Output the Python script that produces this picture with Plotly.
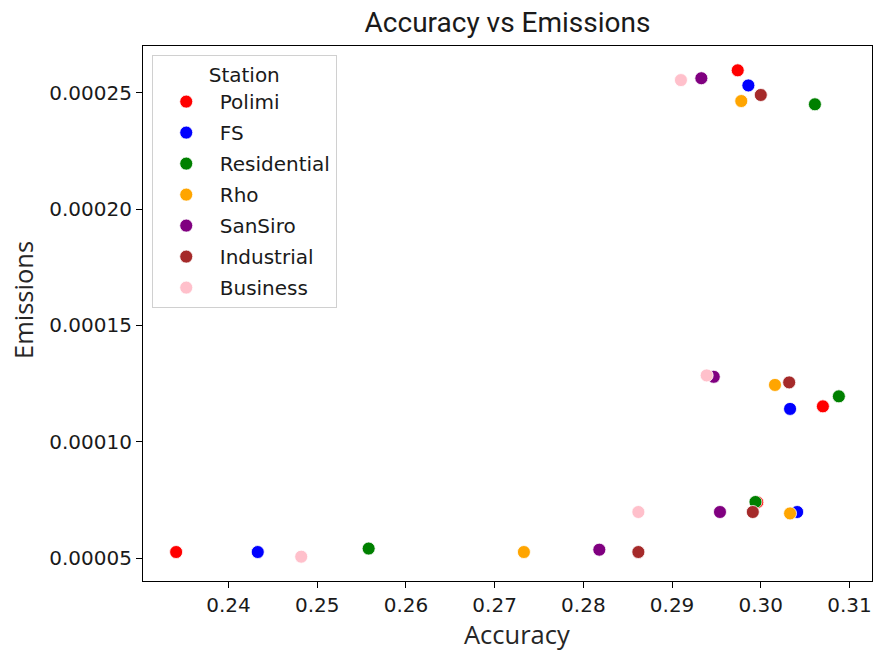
import plotly.graph_objects as go

# Accuracy / emissions measured for each station (four runs per station)
stations = ["Polimi", "FS", "Residential", "Rho", "SanSiro", "Industrial", "Business"]
colors = ["red", "blue", "green", "orange", "purple", "brown", "pink"]

accuracy = {
    "Polimi":      [0.2341, 0.2996, 0.3070, 0.2974],
    "FS":          [0.2433, 0.3041, 0.3033, 0.2986],
    "Residential": [0.2558, 0.2994, 0.3088, 0.3061],
    "Rho":         [0.2733, 0.3033, 0.3016, 0.2978],
    "SanSiro":     [0.2818, 0.2954, 0.2947, 0.2933],
    "Industrial":  [0.2862, 0.2991, 0.3032, 0.3000],
    "Business":    [0.2482, 0.2862, 0.2939, 0.2910],
}
emissions = {
    "Polimi":      [0.0000526, 0.0000740, 0.0001152, 0.0002596],
    "FS":          [0.0000526, 0.0000698, 0.0001141, 0.0002531],
    "Residential": [0.0000541, 0.0000741, 0.0001195, 0.0002450],
    "Rho":         [0.0000526, 0.0000692, 0.0001244, 0.0002464],
    "SanSiro":     [0.0000536, 0.0000698, 0.0001279, 0.0002562],
    "Industrial":  [0.0000526, 0.0000698, 0.0001255, 0.0002490],
    "Business":    [0.0000506, 0.0000698, 0.0001285, 0.0002554],
}

x_ticks = [0.24, 0.25, 0.26, 0.27, 0.28, 0.29, 0.30, 0.31]
y_ticks = [0.00005, 0.00010, 0.00015, 0.00020, 0.00025]

fig = go.Figure()
for name, col in zip(stations, colors):
    fig.add_trace(go.Scatter(
        x=accuracy[name], y=emissions[name], mode="markers", name=name,
        legendgroup=name,
        marker=dict(color=col, size=13, line=dict(color="white", width=0.8)),
    ))

# autoscale limits with a 5% pad on each side
all_x = [v for s in stations for v in accuracy[s]]
all_y = [v for s in stations for v in emissions[s]]
xr = max(all_x) - min(all_x)
yr = max(all_y) - min(all_y)
x_range = [min(all_x) - 0.05 * xr, max(all_x) + 0.05 * xr]
y_range = [min(all_y) - 0.05 * yr, max(all_y) + 0.05 * yr]

W, H = 873, 655
L, R, T, B = 143, 1, 46, 74
plot_w, plot_h = W - L - R, H - T - B

tick_font = dict(family="DejaVu Sans", size=20, color="#1a1a1a")
label_font = dict(family="Open Sans", size=25.5, color="#262626")

fig.update_layout(
    width=W, height=H,
    margin=dict(l=L, r=R, t=T, b=B),
    plot_bgcolor="white", paper_bgcolor="white",
    showlegend=True,
    title=dict(text="Accuracy vs Emissions", xref="paper", x=0.5, xanchor="center",
               yref="container", y=1 - 22 / H, yanchor="middle",
               font=dict(family="Roboto", size=28, color="#1a1a1a")),
    legend=dict(
        x=0.012, y=0.983, xanchor="left", yanchor="top",
        bgcolor="rgba(255,255,255,0.8)", bordercolor="#d0d0d0", borderwidth=1,
        font=dict(family="DejaVu Sans", size=20, color="#1a1a1a"),
        title=dict(text="Station", side="top center",
                   font=dict(family="DejaVu Sans", size=20, color="#1a1a1a")),
        itemwidth=57, traceorder="grouped", tracegroupgap=2,
    ),
    xaxis=dict(
        range=x_range, tickvals=x_ticks, tickformat=".2f",
        showgrid=False, zeroline=False,
        showline=True, linecolor="black", linewidth=1.2, mirror=True,
        ticks="outside", ticklen=6, tickwidth=1.2, tickcolor="black",
        tickfont=tick_font,
    ),
    yaxis=dict(
        range=y_range, tickvals=y_ticks, tickformat=".5f",
        showgrid=False, zeroline=False,
        showline=True, linecolor="black", linewidth=1.2, mirror=True,
        ticks="outside", ticklen=6, tickwidth=1.2, tickcolor="black",
        tickfont=tick_font,
    ),
)

# axis labels placed as figure text
fig.add_annotation(text="Accuracy", xref="paper", yref="paper",
                   x=(517 - L) / plot_w, y=-(634 - (H - B)) / plot_h,
                   xanchor="center", yanchor="middle", showarrow=False,
                   font=label_font)
fig.add_annotation(text="Emissions", xref="paper", yref="paper",
                   x=(23 - L) / plot_w, y=((H - B) - 300) / plot_h,
                   xanchor="center", yanchor="middle", textangle=-90,
                   showarrow=False, font=label_font)

fig.write_html("out.html")
